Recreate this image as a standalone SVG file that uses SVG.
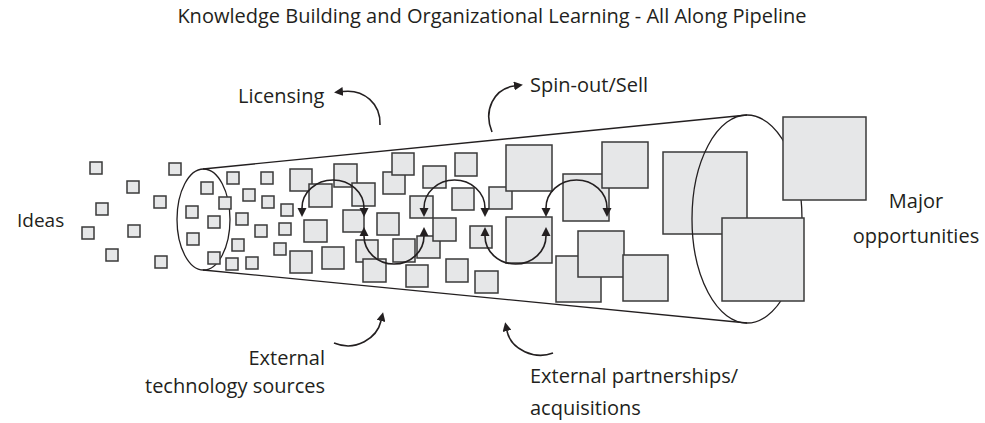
<svg xmlns="http://www.w3.org/2000/svg" width="985" height="423" viewBox="0 0 985 423">
<style>
.sq{fill:#e6e7e8;stroke:#3a3a3a;stroke-width:1.5}
.ln{fill:none;stroke:#231f20;stroke-width:1.3}
.ar{fill:none;stroke:#231f20;stroke-width:1.6}
.t{font-family:"Open Sans","Liberation Sans",sans-serif;font-size:20px;fill:#231f20}
</style>
<defs>
<marker id="ah" viewBox="0 0 10 10" refX="0" refY="5" markerWidth="9" markerHeight="10" markerUnits="userSpaceOnUse" orient="auto-start-reverse">
<path d="M0,0 L10,5 L0,10 z" fill="#231f20"/>
</marker>
<marker id="ahs" viewBox="0 0 10 10" refX="0" refY="5" markerWidth="9" markerHeight="9" markerUnits="userSpaceOnUse" orient="auto">
<path d="M0,0 L10,5 L0,10 z" fill="#231f20"/>
</marker>
</defs>
<rect width="985" height="423" fill="#fff"/>
<text id="title" class="t" x="492" y="23" text-anchor="middle">Knowledge Building and Organizational Learning - All Along Pipeline</text>

<g id="ideas">
<rect class="sq" x="90" y="162" width="12" height="12"/>
<rect class="sq" x="127" y="181" width="12" height="12"/>
<rect class="sq" x="169" y="163" width="12" height="12"/>
<rect class="sq" x="96" y="203" width="12" height="12"/>
<rect class="sq" x="154" y="196" width="12" height="12"/>
<rect class="sq" x="82" y="227" width="12" height="12"/>
<rect class="sq" x="128" y="225" width="12" height="12"/>
<rect class="sq" x="106" y="249" width="12" height="12"/>
<rect class="sq" x="155" y="256" width="12" height="12"/>
<text class="t" x="17" y="227" style="font-size:19px">Ideas</text>
</g>

<g id="pipeline">
<line class="ln" x1="203" y1="169" x2="747" y2="115"/>
<line class="ln" x1="203" y1="270" x2="747" y2="323"/>
<ellipse class="ln" cx="203.5" cy="219.5" rx="26.5" ry="50.5"/>
<rect class="sq" x="201" y="182" width="12" height="12"/>
<rect class="sq" x="219" y="197" width="12" height="12"/>
<rect class="sq" x="186" y="206" width="12" height="12"/>
<rect class="sq" x="208" y="216" width="12" height="12"/>
<rect class="sq" x="187" y="233" width="12" height="12"/>
<rect class="sq" x="208" y="252" width="12" height="12"/>
<rect class="sq" x="227" y="172" width="12" height="12"/>
<rect class="sq" x="261" y="172" width="12" height="12"/>
<rect class="sq" x="243" y="189" width="12" height="12"/>
<rect class="sq" x="262" y="196" width="12" height="12"/>
<rect class="sq" x="236" y="213" width="12" height="12"/>
<rect class="sq" x="255" y="225" width="12" height="12"/>
<rect class="sq" x="232" y="239" width="12" height="12"/>
<rect class="sq" x="226" y="258" width="12" height="12"/>
<rect class="sq" x="246" y="257" width="12" height="12"/>
<rect class="sq" x="281" y="204" width="12" height="12"/>
<rect class="sq" x="279" y="223" width="12" height="12"/>
<rect class="sq" x="274" y="243" width="12" height="12"/>

<rect class="sq" x="290" y="169" width="22" height="22"/>
<rect class="sq" x="309" y="184" width="23" height="23"/>
<rect class="sq" x="334" y="164" width="23" height="23"/>
<rect class="sq" x="352" y="183" width="23" height="23"/>
<rect class="sq" x="343" y="210" width="21" height="22"/>
<rect class="sq" x="304" y="220" width="23" height="22"/>
<rect class="sq" x="290" y="251" width="22" height="22"/>
<rect class="sq" x="322" y="247" width="22" height="22"/>
<rect class="sq" x="356" y="240" width="22" height="22"/>
<rect class="sq" x="363" y="259" width="23" height="23"/>
<rect class="sq" x="377" y="213" width="22" height="22"/>
<rect class="sq" x="383" y="172" width="22" height="22"/>
<rect class="sq" x="392" y="153" width="22" height="22"/>
<rect class="sq" x="393" y="239" width="22" height="23"/>
<rect class="sq" x="406" y="265" width="22" height="22"/>
<rect class="sq" x="410" y="196" width="23" height="22"/>
<rect class="sq" x="417" y="236" width="23" height="22"/>
<rect class="sq" x="433" y="218" width="23" height="23"/>
<rect class="sq" x="423" y="166" width="23" height="22"/>
<rect class="sq" x="455" y="153" width="22" height="23"/>
<rect class="sq" x="452" y="188" width="22" height="22"/>
<rect class="sq" x="446" y="259" width="22" height="23"/>
<rect class="sq" x="470" y="226" width="22" height="22"/>
<rect class="sq" x="475" y="271" width="23" height="22"/>
<rect class="sq" x="489" y="187" width="23" height="22"/>

<rect class="sq" x="506" y="145" width="46" height="46"/>
<rect class="sq" x="563" y="174" width="46" height="47"/>
<rect class="sq" x="602" y="142" width="46" height="46"/>
<rect class="sq" x="506" y="217" width="46" height="46"/>
<rect class="sq" x="556" y="256" width="45" height="46"/>
<rect class="sq" x="578" y="231" width="46" height="46"/>
<rect class="sq" x="623" y="255" width="45" height="46"/>
</g>

<g id="major">
<rect class="sq" x="663" y="152" width="84" height="82"/>
<ellipse class="ln" cx="747" cy="219" rx="55" ry="104"/>
<rect class="sq" x="783" y="117" width="83" height="83"/>
<rect class="sq" x="722" y="218" width="82" height="83"/>
<text class="t" x="916" y="208" text-anchor="middle">Major</text>
<text class="t" x="916" y="243" text-anchor="middle">opportunities</text>
</g>

<g id="connectors">
<path class="ar" d="M302,208 A31,28 0 0 1 364,208" marker-start="url(#ah)" marker-end="url(#ah)"/>
<path class="ar" d="M364,236 A30,28 0 0 0 424,236" marker-start="url(#ah)" marker-end="url(#ah)"/>
<path class="ar" d="M424,208 A30.5,28 0 0 1 485,208" marker-start="url(#ah)" marker-end="url(#ah)"/>
<path class="ar" d="M485,236 A30.5,28 0 0 0 546,236" marker-start="url(#ah)" marker-end="url(#ah)"/>
<path class="ar" d="M546,208 A30.5,28 0 0 1 607,208" marker-start="url(#ah)" marker-end="url(#ah)"/>
<path class="ar" d="M380,125 C381,104 364,89 343,91.5" marker-end="url(#ahs)"/>
<path class="ar" d="M492,132 C483,110 494,89 514,86" marker-end="url(#ahs)"/>
<path class="ar" d="M334,343 C356,352 377,338 381,321" marker-end="url(#ahs)"/>
<path class="ar" d="M553,353 C535,360 511,350 507,331" marker-end="url(#ahs)"/>
</g>

<g id="labels">
<text class="t" x="238" y="103">Licensing</text>
<text class="t" x="530" y="92">Spin-out/Sell</text>
<text class="t" x="325" y="365" text-anchor="end">External</text>
<text class="t" x="325" y="393" text-anchor="end">technology sources</text>
<text class="t" x="530" y="383">External partnerships/</text>
<text class="t" x="530" y="415">acquisitions</text>
</g>
</svg>
